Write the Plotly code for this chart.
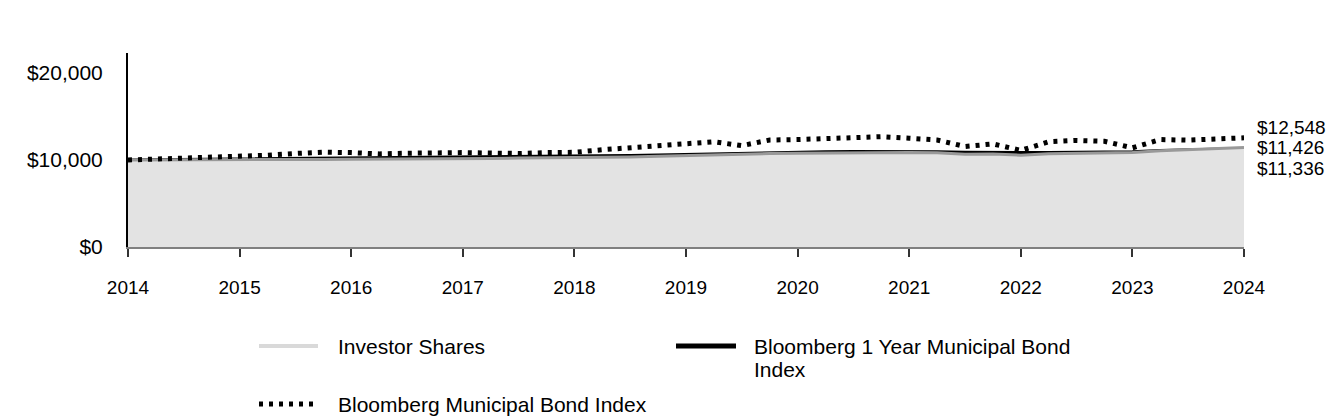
import plotly.graph_objects as go

# ---- data (quarterly, growth of $10,000) ----
quarters = [2014 + 0.25 * i for i in range(41)]

investor_shares = [
    10000, 10000, 10020, 10020, 10030, 10040, 10050, 10070,
    10090, 10100, 10110, 10080, 10120, 10180, 10230, 10250,
    10250, 10290, 10350, 10420, 10520, 10620, 10680, 10740,
    10780, 10800, 10850, 10870, 10870, 10820, 10650, 10700,
    10560, 10720, 10760, 10830, 10850, 11050, 11150, 11330,
    11426,
]
one_year_muni = [
    10000, 10030, 10060, 10080, 10100, 10120, 10140, 10160,
    10200, 10220, 10240, 10250, 10280, 10320, 10360, 10380,
    10400, 10450, 10520, 10580, 10650, 10750, 10820, 10880,
    10920, 10950, 10980, 10990, 10990, 10950, 10900, 10880,
    10800, 10850, 10880, 10920, 10950, 11100, 11180, 11270,
    11336,
]
muni_bond = [
    10000, 10100, 10200, 10250, 10400, 10550, 10750, 10900,
    10850, 10700, 10780, 10850, 10850, 10800, 10750, 10850,
    10880, 11180, 11420, 11600, 11850, 12100, 11650, 12300,
    12350, 12480, 12600, 12680, 12500, 12300, 11550, 11850,
    11100, 12100, 12250, 12150, 11400, 12350, 12280, 12400,
    12548,
]

series_names = ["Investor Shares", "Bloomberg 1 Year Municipal Bond Index",
                "Bloomberg Municipal Bond Index"]
year_ticks = list(range(2014, 2025))
y_ticks = [0, 10000, 20000]
y_tick_text = ["$0", "$10,000", "$20,000"]

FONT = "Liberation Sans, Arial, sans-serif"

# the page body has an 8px margin; figure is sized/offset to compensate
OFF = 8
PLOT_L, PLOT_T, PLOT_W, PLOT_H = 128, 53, 1116, 194

fig = go.Figure()

fig.add_trace(go.Scatter(
    x=quarters, y=one_year_muni, mode="lines", name=series_names[1],
    line=dict(color="#000000", width=3), showlegend=False,
))
fig.add_trace(go.Scatter(
    x=quarters, y=investor_shares, mode="lines", name=series_names[0],
    fill="tozeroy", fillcolor="#e3e3e3",
    line=dict(color="#999999", width=3), showlegend=False,
))
fig.add_trace(go.Scatter(
    x=quarters, y=muni_bond, mode="lines", name=series_names[2],
    line=dict(color="#000000", width=5, dash="4px,6px"), showlegend=False,
))

# end-value labels
end_labels = [
    (muni_bond[-1], 10),
    (investor_shares[-1], 0),
    (one_year_muni[-1], -20),
]
for val, ys in end_labels:
    fig.add_annotation(
        x=quarters[-1], y=val, xref="x", yref="y",
        text=f"${val:,.0f}", showarrow=False,
        xanchor="left", yanchor="middle", xshift=11, yshift=ys,
        font=dict(family=FONT, size=19, color="#000"),
    )

# ---- manual legend (paper coords relative to the plot area) ----
def px_x(p):
    return (p - PLOT_L) / float(PLOT_W)

def px_y(p):
    return (PLOT_T + PLOT_H - p) / float(PLOT_H)

legend_items = [
    dict(x0=259, x1=318, y=346, color="#d9d9d9", width=4, dash="solid",
         tx=336, texts=[series_names[0]]),
    dict(x0=676, x1=736, y=346, color="#000000", width=5, dash="solid",
         tx=752, texts=["Bloomberg 1 Year Municipal Bond", "Index"]),
    dict(x0=259, x1=315, y=404, color="#000000", width=5, dash="4px,6px",
         tx=336, texts=[series_names[2]]),
]
for it in legend_items:
    fig.add_shape(
        type="line", xref="paper", yref="paper",
        x0=px_x(it["x0"]), x1=px_x(it["x1"]),
        y0=px_y(it["y"]), y1=px_y(it["y"]),
        line=dict(color=it["color"], width=it["width"], dash=it["dash"]),
    )
    for k, t in enumerate(it["texts"]):
        fig.add_annotation(
            x=px_x(it["tx"]), y=px_y(it["y"] + 23 * k), xref="paper", yref="paper",
            text=t, showarrow=False, xanchor="left", yanchor="middle",
            font=dict(family=FONT, size=21, color="#000"),
        )

fig_w, fig_h = 1344 - OFF, 420 - OFF
fig.update_layout(
    width=fig_w, height=fig_h, autosize=False,
    margin=dict(l=PLOT_L - OFF, r=fig_w - (PLOT_L - OFF) - PLOT_W,
                t=PLOT_T - OFF, b=fig_h - (PLOT_T - OFF) - PLOT_H),
    paper_bgcolor="white", plot_bgcolor="white",
    font=dict(family=FONT, color="#000"),
    showlegend=False,
)
fig.update_xaxes(
    range=[2014, 2024], tickvals=year_ticks, ticktext=[str(y) for y in year_ticks],
    showgrid=False, zeroline=False,
    showline=True, linecolor="#808080", linewidth=2,
    ticks="outside", ticklen=8, tickwidth=2, tickcolor="#333",
    ticklabelstandoff=14,
    tickfont=dict(family=FONT, size=19, color="#000"),
)
fig.update_yaxes(
    range=[0, 22300], tickvals=y_ticks, ticktext=y_tick_text,
    showgrid=False, zeroline=False,
    showline=True, linecolor="#000", linewidth=2,
    ticks="", ticklabelstandoff=19,
    tickfont=dict(family=FONT, size=21, color="#000"),
)

fig.write_html("out.html")
